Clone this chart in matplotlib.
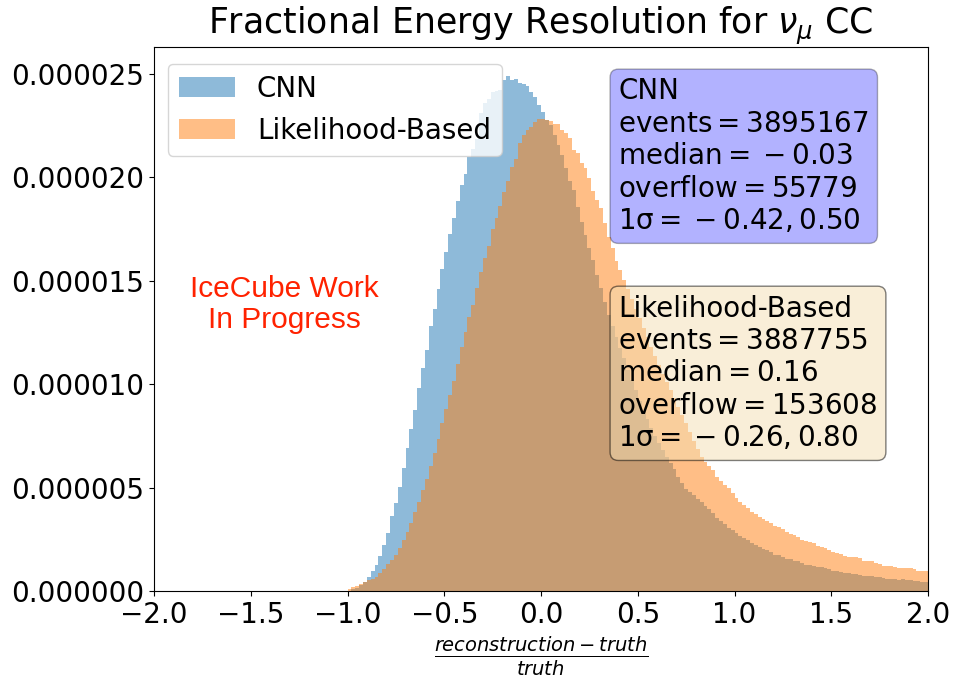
import numpy as np
import matplotlib
matplotlib.use("Agg")
import matplotlib.pyplot as plt
from matplotlib.ticker import FormatStrFormatter

# bin layout: 200 bins of width 0.02 from -2 to 2; non-empty bins start at -1.00
bin_edges = np.round(np.arange(-2.0, 2.0001, 0.02), 2)
first_filled_edge = -1.00

# bin heights (units of 1e-6), from x=-1.00 to x=1.98 (left edges)
cnn_vals = [
    0.00, 0.08, 0.15, 0.28, 0.45, 0.69, 0.97, 1.26, 1.69, 2.22,
    2.79, 3.63, 4.24, 5.01, 5.93, 6.92, 7.83, 8.75, 9.82, 10.77,
    11.65, 12.80, 13.63, 14.60, 15.55, 16.40, 17.25, 18.05, 18.85, 19.65,
    20.15, 21.00, 21.35, 21.85, 23.10, 23.60, 23.80, 24.10, 24.15, 24.20,
    24.70, 24.90, 24.70, 24.75, 24.55, 24.50, 24.40, 24.10, 23.87, 23.50,
    23.18, 22.78, 22.53, 22.05, 21.57, 21.08, 20.44, 19.84, 19.39, 18.55,
    17.86, 17.21, 16.60, 16.00, 15.28, 14.64, 13.99, 13.35, 12.80, 12.30,
    11.75, 11.25, 10.70, 10.20, 9.72, 9.20, 8.70, 8.30, 7.90, 7.50,
    7.15, 6.80, 6.50, 6.20, 5.90, 5.50, 5.20, 4.95, 4.80, 4.62,
    4.45, 4.30, 4.12, 3.95, 3.75, 3.55, 3.40, 3.22, 3.07, 2.93,
    2.80, 2.68, 2.55, 2.45, 2.33, 2.22, 2.12, 2.03, 1.98, 1.90,
    1.76, 1.72, 1.66, 1.56, 1.54, 1.46, 1.44, 1.37, 1.27, 1.25,
    1.22, 1.18, 1.16, 1.10, 1.05, 0.99, 0.97, 0.90, 0.85, 0.85,
    0.82, 0.82, 0.77, 0.73, 0.73, 0.73, 0.68, 0.68, 0.63, 0.58,
    0.58, 0.58, 0.53, 0.58, 0.53, 0.53, 0.48, 0.48, 0.44, 0.44,
]
lh_vals = [
    0.10, 0.20, 0.25, 0.32, 0.45, 0.53, 0.58, 0.69, 0.88, 1.08,
    1.29, 1.50, 1.74, 2.10, 2.47, 2.87, 3.30, 3.83, 4.32, 4.88,
    5.40, 6.05, 6.65, 7.35, 8.10, 8.80, 9.50, 10.15, 10.98, 11.78,
    12.54, 13.24, 13.83, 14.64, 15.44, 16.09, 16.68, 17.50, 18.02, 18.60,
    19.30, 19.84, 20.50, 20.90, 21.65, 22.05, 22.30, 22.45, 22.65, 22.80,
    22.80, 22.78, 22.74, 22.60, 22.58, 22.30, 22.13, 21.92, 21.30, 21.16,
    20.70, 20.45, 19.95, 19.35, 18.90, 18.50, 17.80, 17.10, 16.60, 15.95,
    15.50, 15.05, 14.60, 14.10, 13.65, 13.20, 12.70, 12.30, 11.80, 11.35,
    10.95, 10.50, 10.10, 9.72, 9.32, 8.90, 8.50, 8.10, 7.70, 7.25,
    6.85, 6.50, 6.25, 6.04, 5.85, 5.50, 5.33, 5.13, 4.97, 4.72,
    4.48, 4.30, 4.16, 4.00, 3.83, 3.70, 3.60, 3.50, 3.37, 3.30,
    3.16, 3.11, 2.98, 2.84, 2.76, 2.70, 2.62, 2.48, 2.40, 2.35,
    2.30, 2.18, 2.11, 2.06, 1.96, 1.91, 1.86, 1.77, 1.71, 1.66,
    1.63, 1.63, 1.58, 1.45, 1.45, 1.45, 1.34, 1.29, 1.22, 1.21,
    1.21, 1.16, 1.10, 1.10, 1.10, 1.10, 1.05, 0.98, 0.97, 0.97,
]

series_labels = ["CNN", "Likelihood-Based"]
cnn_stats = ["CNN", r"$\mathrm{events}=3895167$", r"$\mathrm{median}=\:-\:0.03$",
             r"$\mathrm{overflow}=55779$", r"$1\mathrm{\sigma}=\:-\:0.42, 0.50$"]
lh_stats = ["Likelihood-Based", r"$\mathrm{events}=3887755$", r"$\mathrm{median}=0.16$",
            r"$\mathrm{overflow}=153608$", r"$1\mathrm{\sigma}=\:-\:0.26, 0.80$"]
title_text = r"Fractional Energy Resolution for $\nu_\mu$ CC"
xlabel_text = r"$\frac{reconstruction-truth}{truth}$"
watermark = "IceCube Work\nIn Progress"

# bin centers for the filled bins
start = int(round((first_filled_edge + 2.0) / 0.02))
centers = (bin_edges[:-1] + bin_edges[1:]) / 2.0
cnn_centers = centers[start:start + len(cnn_vals)]
lh_centers = centers[start:start + len(lh_vals)]

fig = plt.figure(figsize=(9.59, 6.87), dpi=100)
ax = fig.add_axes([0.1606, 0.1397, 0.8071, 0.7919])

ax.hist(cnn_centers, bins=bin_edges, weights=np.array(cnn_vals) * 1e-6,
        histtype="stepfilled", alpha=0.5, color="C0", label=series_labels[0])
ax.hist(lh_centers, bins=bin_edges, weights=np.array(lh_vals) * 1e-6,
        histtype="stepfilled", alpha=0.5, color="C1", label=series_labels[1])

ax.set_xlim(-2, 2)
ax.set_ylim(0, 2.63e-5)
ax.yaxis.set_major_formatter(FormatStrFormatter("%.6f"))
ax.set_yticks(np.arange(0, 2.6e-5, 5e-6))
ax.set_xticks(np.arange(-2.0, 2.01, 0.5))
ax.tick_params(labelsize=20)

ax.set_title(title_text, fontsize=25, pad=7)
ax.set_xlabel(xlabel_text, fontsize=20)

ax.legend(loc="upper left", fontsize=20, bbox_to_anchor=(0.0, 0.995))

ax.text(0.6, 0.944, "\n".join(cnn_stats), transform=ax.transAxes, fontsize=20,
        va="top", ha="left", bbox=dict(boxstyle="round", facecolor="blue", alpha=0.3))
ax.text(0.6, 0.545, "\n".join(lh_stats), transform=ax.transAxes, fontsize=20,
        va="top", ha="left", bbox=dict(boxstyle="round", facecolor="wheat", alpha=0.5))

ax.text(0.168, 0.527, watermark, transform=ax.transAxes, fontsize=21.5,
        color="#ff2200", ha="center", va="center", multialignment="center",
        linespacing=1.15, family=["Liberation Sans", "DejaVu Sans"])

fig.savefig("out.png", dpi=100)
